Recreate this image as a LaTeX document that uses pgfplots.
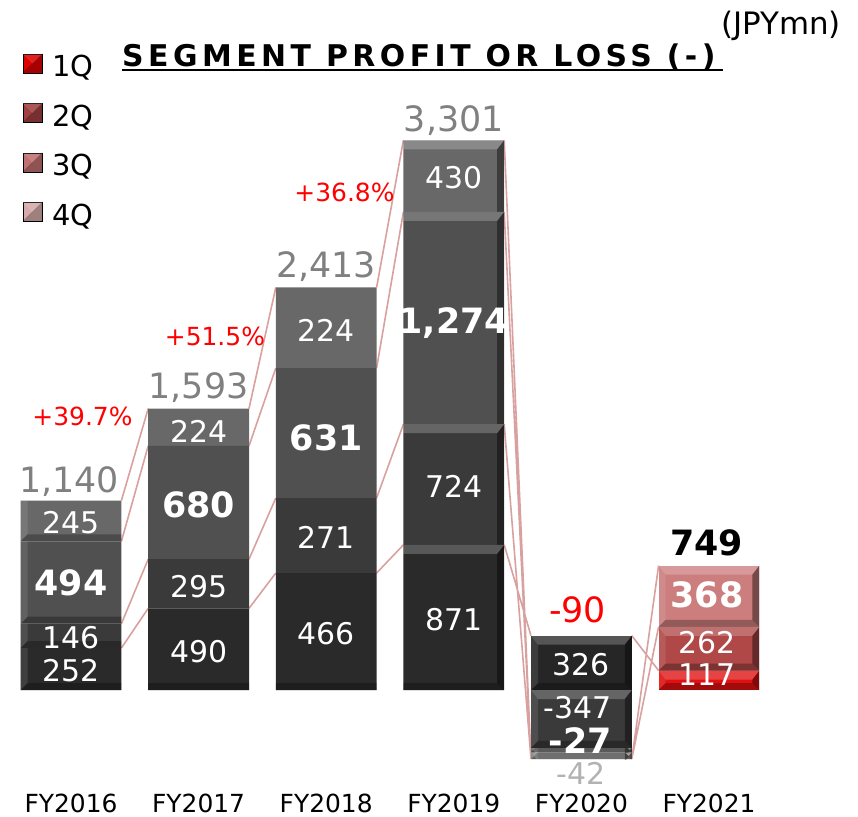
\documentclass[border=0pt]{standalone}
\usepackage{fontspec}
\setmainfont{DejaVu Sans}
\usepackage{pgfplots}
\usepackage{pgfplotstable}
\pgfplotsset{compat=1.18}

\definecolor{gq1}{HTML}{2A2A2A}
\definecolor{gq2}{HTML}{3A3A3A}
\definecolor{gq3}{HTML}{505050}
\definecolor{gq4}{HTML}{686868}
\definecolor{zq1}{HTML}{3A3A3A}
\definecolor{zq2}{HTML}{5A5A5A}
\definecolor{zq3}{HTML}{808080}
\definecolor{zq4}{HTML}{262626}
\definecolor{rq1}{HTML}{E01010}
\definecolor{rq2}{HTML}{B04848}
\definecolor{rq3}{HTML}{CC7D7D}
\definecolor{lq1}{HTML}{E00000}
\definecolor{lq2}{HTML}{A04040}
\definecolor{lq3}{HTML}{BF7070}
\definecolor{lq4}{HTML}{D6AAAA}
\definecolor{conn}{HTML}{D9A0A0}
\definecolor{totgray}{HTML}{808080}
\definecolor{pct}{HTML}{FF0000}

\newcommand{\fs}[1]{\fontsize{#1}{#1}\selectfont}

\newcommand{\bb}[1]{\pgfpointanchor{path picture bounding box}{#1}}
\newcommand{\bbo}[3]{\pgfpointadd{\pgfpointanchor{path picture bounding box}{#1}}{\pgfqpoint{#2}{#3}}}
\newcommand{\bevelpic}{%
  \begin{pgfscope}\pgfsetfillcolor{white}\pgfsetfillopacity{0.22}%
  \pgfpathmoveto{\bb{north west}}\pgfpathlineto{\bb{north east}}%
  \pgfpathlineto{\bbo{north east}{-7bp}{-9bp}}\pgfpathlineto{\bbo{north west}{7bp}{-9bp}}%
  \pgfpathclose\pgfusepath{fill}\end{pgfscope}%
  \begin{pgfscope}\pgfsetfillcolor{black}\pgfsetfillopacity{0.42}%
  \pgfpathmoveto{\bb{north east}}\pgfpathlineto{\bb{south east}}%
  \pgfpathlineto{\bbo{south east}{-7bp}{7bp}}\pgfpathlineto{\bbo{north east}{-7bp}{-9bp}}%
  \pgfpathclose\pgfusepath{fill}\end{pgfscope}%
  \begin{pgfscope}\pgfsetfillcolor{black}\pgfsetfillopacity{0.28}%
  \pgfpathmoveto{\bb{south east}}\pgfpathlineto{\bb{south west}}%
  \pgfpathlineto{\bbo{south west}{7bp}{7bp}}\pgfpathlineto{\bbo{south east}{-7bp}{7bp}}%
  \pgfpathclose\pgfusepath{fill}\end{pgfscope}%
  \begin{pgfscope}\pgfsetfillcolor{white}\pgfsetfillopacity{0.10}%
  \pgfpathmoveto{\bb{south west}}\pgfpathlineto{\bb{north west}}%
  \pgfpathlineto{\bbo{north west}{7bp}{-9bp}}\pgfpathlineto{\bbo{south west}{7bp}{7bp}}%
  \pgfpathclose\pgfusepath{fill}\end{pgfscope}%
}

\pgfplotstableread{
x g1 z1 r1 g2 z2 r2 g3 z3 r3 g4 z4
0 252 0 0 146 0 0 494 0 0 245 0
1 490 0 0 295 0 0 680 0 0 224 0
2 702 0 0 450 0 0 780 0 0 484 0
3 871 0 0 724 0 0 1274 0 0 430 0
4 0 -347 0 0 -27 0 0 -42 0 0 326
5 0 0 117 0 0 262 0 0 368 0 0
}\segdata

\pgfplotsset{
  basax/.style={at={(0,0)}, anchor=south west, scale only axis,
    width=858bp, height=817bp,
    xmin=-0.5564, xmax=6.1677, ymin=-762.2, ymax=4141.2,
    clip=false, axis line style={draw=none}, tick style={draw=none},
    ytick=\empty},
}
\tikzset{
  lab/.style={font=\fs{30}, text=white, inner sep=0pt, anchor=center, text depth=0pt},
  labb/.style={font=\fs{35}\bfseries, text=white, inner sep=0pt, anchor=center, text depth=0pt},
  tot/.style={font=\fs{35}, text=totgray, inner sep=0pt, anchor=base},
  pctl/.style={font=\fs{25}, text=pct, inner sep=0pt, anchor=base},
  bevel/.style={path picture={\bevelpic}},
}

\begin{document}
\begin{tikzpicture}
\path[use as bounding box] (0,0) rectangle (858bp,817bp);

% series lines
\begin{axis}[basax, xtick=\empty, unbounded coords=jump]
\addplot[conn, line width=1.6bp] coordinates {
 (0.395,252)(0.605,490) (0.5,nan)
 (0.395,398)(0.605,785) (0.5,nan)
 (0.395,892)(0.605,1465) (0.5,nan)
 (0.395,1137)(0.605,1689) (0.5,nan)
 (1.395,490)(1.605,702) (1.5,nan)
 (1.395,785)(1.605,1152) (1.5,nan)
 (1.395,1465)(1.605,1932) (1.5,nan)
 (1.395,1689)(1.605,2416) (1.5,nan)
 (2.395,702)(2.605,871) (2.5,nan)
 (2.395,1152)(2.605,1595) (2.5,nan)
 (2.395,1932)(2.605,2869) (2.5,nan)
 (2.395,2416)(2.605,3299) (2.5,nan)
 (3.395,871)(3.605,326) (3.5,nan)
 (3.395,1595)(3.605,-414) (3.5,nan)
 (3.395,2869)(3.605,-414) (3.5,nan)
 (3.395,3299)(3.605,-414) (3.5,nan)
 (4.395,326)(4.605,117) (4.5,nan)
 (4.395,-414)(4.605,747) (4.5,nan)
 (4.395,-414)(4.605,379)
};
\end{axis}

% bars
\begin{axis}[basax, ybar stacked, bar width=0.79,
  xtick={0,1,2,3,4,5},
  xticklabels={FY2016,FY2017,FY2018,FY2019,FY2020,FY2021},
  xticklabel style={font=\fs{25}, anchor=center, yshift=14bp},
  legend image code/.code={\fill[#1] (0bp,-2bp) rectangle (19bp,17bp);
    \fill[black, opacity=0.25] (0bp,-2bp) -- (19bp,-2bp) -- (19bp,17bp) -- (9.5bp,7.5bp) -- cycle;
    \fill[white, opacity=0.12] (0bp,17bp) -- (19bp,17bp) -- (9.5bp,7.5bp) -- cycle;},
  legend style={at={(0.0268,0.9437)}, anchor=north west, draw=none, fill=none,
    inner sep=0pt, outer sep=0pt, row sep=0pt, column sep=10bp, font=\fs{29},
    nodes={inner sep=0pt, text height=31bp, text depth=18.5bp}},
  legend cell align=left,
]
\addplot[draw=none, fill=gq1, bevel, forget plot] table[x=x,y=g1]{\segdata};
\addplot[draw=none, fill=zq1, bevel, forget plot] table[x=x,y=z1]{\segdata};
\addplot[draw=none, fill=rq1, bevel, forget plot] table[x=x,y=r1]{\segdata};
\addplot[draw=none, fill=gq2, bevel, forget plot] table[x=x,y=g2]{\segdata};
\addplot[draw=none, fill=zq2, bevel, forget plot] table[x=x,y=z2]{\segdata};
\addplot[draw=none, fill=rq2, bevel, forget plot] table[x=x,y=r2]{\segdata};
\addplot[draw=none, fill=gq3, bevel, forget plot] table[x=x,y=g3]{\segdata};
\addplot[draw=none, fill=zq3, bevel, forget plot] table[x=x,y=z3]{\segdata};
\addplot[draw=none, fill=rq3, bevel, forget plot] table[x=x,y=r3]{\segdata};
\addplot[draw=none, fill=gq4, bevel, forget plot] table[x=x,y=g4]{\segdata};
\addplot[draw=none, fill=zq4, bevel, forget plot] table[x=x,y=z4]{\segdata};

\addlegendimage{fill=lq1}
\addlegendentry{1Q}
\addlegendimage{fill=lq2}
\addlegendentry{2Q}
\addlegendimage{fill=lq3}
\addlegendentry{3Q}
\addlegendimage{fill=lq4}
\addlegendentry{4Q}
\end{axis}

% labels
\begin{axis}[basax, xtick=\empty]
\node[lab] at (axis cs:0,120) {252};
\node[lab] at (axis cs:0,318) {146};
\node[labb] at (axis cs:0,642) {494};
\node[lab] at (axis cs:0,1008) {245};
\node[lab] at (axis cs:1,234) {490};
\node[lab] at (axis cs:1,624) {295};
\node[labb] at (axis cs:1,1110) {680};
\node[lab] at (axis cs:1,1554) {224};
\node[lab] at (axis cs:2,339) {466};
\node[lab] at (axis cs:2,915) {271};
\node[labb] at (axis cs:2,1518) {631};
\node[lab] at (axis cs:2,2161) {224};
\node[lab] at (axis cs:3,426) {871};
\node[lab] at (axis cs:3,1221) {724};
\node[labb] at (axis cs:3,2215) {1,274};
\node[lab] at (axis cs:3,3076) {430};
\node[lab] at (axis cs:4.0,156) {326};
\node[lab] at (axis cs:3.97,-105) {-347};
\node[labb] at (axis cs:3.99,-306) {-27};
\node[lab, text=black!30] at (axis cs:4.0,-498) {-42};
\node[lab] at (axis cs:4.985,90) {117};
\node[lab] at (axis cs:4.985,288) {262};
\node[labb] at (axis cs:4.985,570) {368};

\node[tot] at (axis cs:-0.016,1188) {1,140};
\node[tot] at (axis cs:1,1752) {1,593};
\node[tot] at (axis cs:2,2473) {2,413};
\node[tot] at (axis cs:3,3349) {3,301};
\node[tot, text=pct] at (axis cs:3.97,408) {-90};
\node[tot, text=black, font=\fs{35}\bfseries] at (axis cs:4.98,810) {749};

\node[pctl] at (axis cs:0.09,1590) {+39.7\%};
\node[pctl] at (axis cs:1.128,2070) {+51.5\%};
\node[pctl] at (axis cs:2.143,2931) {+36.8\%};
\end{axis}

\node[anchor=base west, inner sep=0pt, font=\fs{30}\bfseries\addfontfeature{LetterSpace=15}] at (122bp,750.3bp) {SEGMENT PROFIT OR LOSS (-)};
\draw[line width=2bp] (122bp,746.7bp) -- (722.7bp,746.7bp);
\node[anchor=base west, inner sep=0pt, font=\fs{31}] at (721bp,782bp) {(JPYmn)};
\end{tikzpicture}
\end{document}
